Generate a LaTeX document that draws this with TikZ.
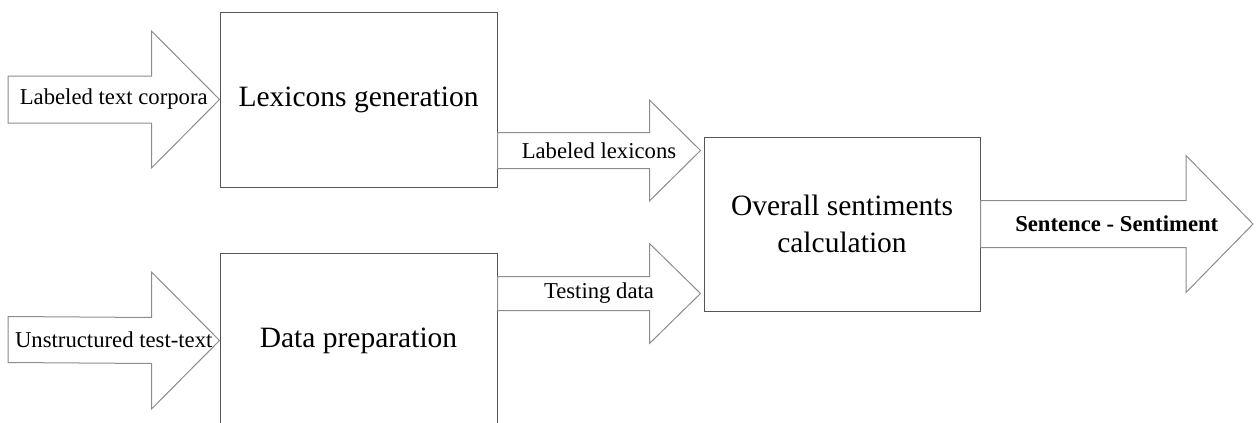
\documentclass[tikz,border=0pt]{standalone}
\usepackage{fontspec}
\setmainfont{Liberation Serif}
\usetikzlibrary{positioning, calc}

\definecolor{boxgray}{HTML}{555555}
\definecolor{arrowgray}{HTML}{8C8C8C}

\tikzset{
    stage/.style={draw=boxgray, line width=1pt, minimum width=277pt, minimum height=175pt,
        inner sep=0pt, align=center, font=\fontsize{29.5}{37}\selectfont},
    flow/.style={draw=arrowgray, line width=1pt, line join=miter},
    flowtext/.style={inner sep=0pt, font=\fontsize{22.7}{27}\selectfont},
}

% tail, tip, half shaft, half head, head length
\newcommand{\flowarrow}[5]{%
    \draw[flow] ($(#1)+(0,-#3)$) -- ($(#2)+(-#5,-#3)$) -- ($(#2)+(-#5,-#4)$) -- (#2)
        -- ($(#2)+(-#5,#4)$) -- ($(#2)+(-#5,#3)$) -- ($(#1)+(0,#3)$) -- cycle;
}

\begin{document}
\begin{tikzpicture}[x=1pt, y=-1pt]
    \useasboundingbox (0,0) rectangle (1259,423);
    \node[stage] (lex) at (358.5,99.5) {Lexicons generation};
    \node[stage] (prep) [below=65pt of lex] {Data preparation};
    \node[stage, minimum width=276pt, minimum height=174pt] (sum) at (842,224)
        {Overall sentiments\\calculation};

    \coordinate (in1) at (8,99.5);
    \coordinate (in2) at (8,339.5);
    \coordinate (t3) at ($(sum.west)+(-3,-73.5)$);
    \coordinate (t4) at ($(sum.west)+(-3,69.5)$);
    \coordinate (s3) at (lex.east |- t3);
    \coordinate (s4) at (prep.east |- t4);
    \coordinate (out) at (1253,224);

    \flowarrow{in1}{lex.west}{23.5}{68.5}{68}
    \flowarrow{in2}{prep.west}{23}{68.5}{68}
    \flowarrow{s3}{t3}{18}{50.5}{51}
    \flowarrow{s4}{t4}{17}{50}{51}
    \flowarrow{sum.east}{out}{23.5}{68.5}{67}

    \node[flowtext] (l1) at ($(in1)!0.5!(lex.west)$) {Labeled text corpora};
    \node[flowtext] (l2) at ($(in2)!0.5!(prep.west)$) {Unstructured test-text};
    \node[flowtext] (l3) at ($(s3)!0.5!(t3)$) {Labeled lexicons};
    \node[flowtext] (l4) at ($(s4)!0.5!(t4)$) {Testing data};
    \node[flowtext, font=\fontsize{22.7}{27}\selectfont\bfseries] (l5) at ($(sum.east)!0.5!(out)$)
        {Sentence - Sentiment};
\end{tikzpicture}
\end{document}
